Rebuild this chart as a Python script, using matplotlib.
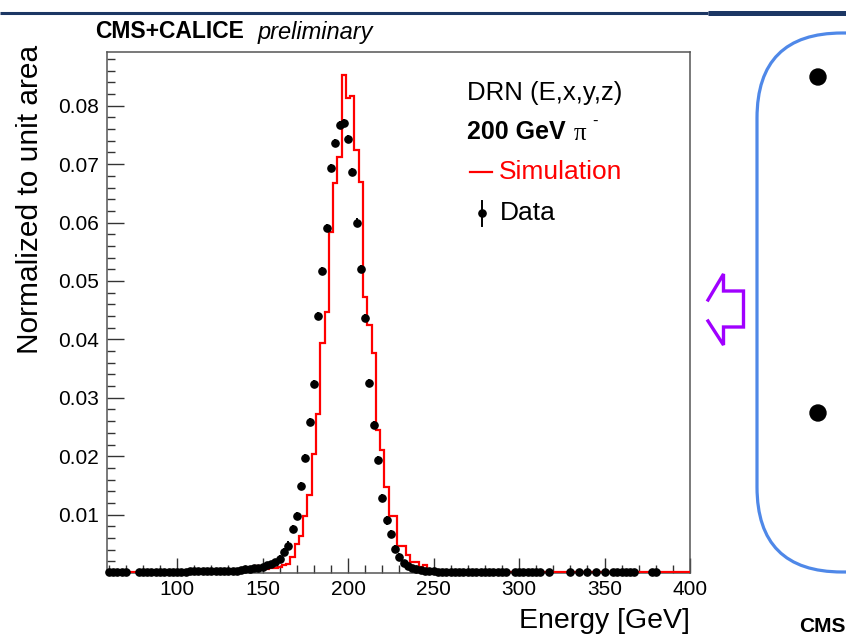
import numpy as np
import matplotlib
matplotlib.use('Agg')
import matplotlib.pyplot as plt
from matplotlib.patches import FancyBboxPatch, Circle
from matplotlib.ticker import MultipleLocator, FixedLocator

plt.rcParams['font.family'] = ['Liberation Sans', 'DejaVu Sans']

# ---------------- data ----------------
BIN_WIDTH = 2.5
FIRST_CENTER = 60.0
LAST_CENTER = 400.0

# simulation (normalized), bin centres 60 ... 132.5
SIM_LEFT_TAIL = [0.0001, 0.0001, 0.0001, 0.0001, 0.0001, 0.0001, 0.0001, 0.0001, 0.0001, 0.0001,
                 0.0001, 0.0001, 0.0001, 0.0001, 0.0001, 0.0001, 0.0001, 0.0001, 0.0002, 0.0002,
                 0.0002, 0.0002, 0.0002, 0.0002, 0.0002, 0.0002, 0.0002, 0.0002, 0.0003, 0.0003]
# bin centres 135 ... 250
SIM_CORE = [0.0003, 0.0005, 0.0005, 0.0007, 0.0008, 0.0012, 0.0007, 0.0006, 0.0008, 0.0009,
            0.0011, 0.0013, 0.0016, 0.0027, 0.0050, 0.0064, 0.0097, 0.0133, 0.0203, 0.0273,
            0.0393, 0.0447, 0.0584, 0.0668, 0.0713, 0.0853, 0.0813, 0.0816, 0.0725, 0.0670,
            0.0473, 0.0424, 0.0376, 0.0244, 0.0210, 0.0147, 0.0098, 0.0098, 0.0046, 0.0046,
            0.0030, 0.0018, 0.0018, 0.0010, 0.0014, 0.0005, 0.0004]
# bin centres 252.5 ... 400
SIM_RIGHT_TAIL = [0.0003, 0.0003, 0.0003, 0.0003, 0.0003, 0.0003, 0.0003, 0.0002, 0.0002, 0.0002,
                  0.0002, 0.0002, 0.0002, 0.0002, 0.0002, 0.0002, 0.0002, 0.0002, 0.0002, 0.0002,
                  0.0001, 0.0001, 0.0001, 0.0001, 0.0001, 0.0001, 0.0001, 0.0001, 0.0001, 0.0001,
                  0.0001, 0.0001, 0.0001, 0.0001, 0.0001, 0.0001, 0.0001, 0.0001, 0.0001, 0.0001,
                  0.0001, 0.0001, 0.0001, 0.0001, 0.0001, 0.0001, 0.0001, 0.0001, 0.0001, 0.0001,
                  0.0001, 0.0001, 0.0001, 0.0001, 0.0001, 0.0001, 0.0001, 0.0001, 0.0001, 0.0001]

NAN = float('nan')
# data (normalized), bin centres 60 ... 132.5 (nan = empty bin)
DATA_LEFT_TAIL = [0.0002, 0.0002, 0.0002, 0.0002, 0.0002, NAN, NAN, 0.0002, 0.0002, 0.0002,
                  0.0002, 0.0002, 0.0002, 0.0002, 0.0002, 0.0002, 0.0002, 0.0002, 0.0002, 0.0003,
                  0.0003, 0.0003, 0.0003, 0.0003, 0.0003, 0.0003, 0.0003, 0.0003, 0.0003, 0.0004]
# bin centres 135 ... 250
DATA_CORE = [0.0004, 0.0005, 0.0006, 0.0007, 0.0008, 0.0009, 0.0010, 0.0013, 0.0015, 0.0018,
             0.0024, 0.0036, 0.0047, 0.0075, 0.0098, 0.0149, 0.0197, 0.0258, 0.0324, 0.0440,
             0.0517, 0.0590, 0.0693, 0.0736, 0.0767, 0.0771, 0.0743, 0.0687, 0.0600, 0.0521,
             0.0436, 0.0325, 0.0253, 0.0193, 0.0129, 0.0090, 0.0067, 0.0041, 0.0027, 0.0017,
             0.0012, 0.0009, 0.0007, 0.0005, 0.0004, 0.0003, 0.0003]
# bin centres 252.5 ... 400
DATA_RIGHT_TAIL = [0.0002, 0.0002, 0.0002, 0.0002, 0.0002, 0.0002, 0.0002, 0.0002, 0.0002, 0.0002,
                   0.0002, 0.0002, 0.0002, 0.0002, 0.0002, 0.0002, 0.0002, NAN, 0.0001, 0.0001,
                   0.0001, 0.0001, 0.0001, 0.0001, 0.0001, NAN, 0.0001, NAN, NAN, NAN,
                   NAN, 0.0001, NAN, 0.0001, NAN, 0.0001, NAN, 0.0001, NAN, 0.0001,
                   NAN, 0.0001, 0.0001, 0.0001, 0.0001, 0.0001, 0.0001, NAN, NAN, NAN,
                   0.0001, 0.0001, NAN, NAN, NAN, NAN, NAN, NAN, NAN, NAN]
DATA_ERR = 0.0007

X_TICKS = [100, 150, 200, 250, 300, 350, 400]
Y_TICKS = [0.01, 0.02, 0.03, 0.04, 0.05, 0.06, 0.07, 0.08]
Y_TICK_LABELS = ['0.01', '0.02', '0.03', '0.04', '0.05', '0.06', '0.07', '0.08']

# ---------------- figure ----------------
W, H = 846, 643
fig = plt.figure(figsize=(W / 100, H / 100), dpi=100)

# slide decorations (pixel coordinates)
ov = fig.add_axes([0, 0, 1, 1], zorder=0)
ov.set_xlim(0, W)
ov.set_ylim(H, 0)
ov.axis('off')
navy = '#1c3764'
ov.plot([0, 708], [13, 13], color=navy, lw=2.2, solid_capstyle='butt')
ov.plot([708, W], [12.5, 12.5], color=navy, lw=3.6, solid_capstyle='butt')
box = FancyBboxPatch((757, 33), 200, 539, boxstyle='round,pad=0,rounding_size=85',
                     fill=False, edgecolor='#4f88e8', lw=2.3)
ov.add_patch(box)
ov.add_patch(Circle((818, 77), 8, color='black'))
ov.add_patch(Circle((818, 413), 8, color='black'))
arrow_x = [708, 723.5, 723.5, 743.5, 743.5, 723.5, 723.5, 708]
arrow_y = [300, 274, 291, 291, 327, 327, 345, 321]
ov.plot(arrow_x, arrow_y, color='#a000ff', lw=2.4, solid_joinstyle='miter')
ov.text(799, 627, 'CMS', fontsize=15, fontweight='bold', ha='left', va='center')

# main plot
L, R, T, B = 107, 690, 52, 573
ax = fig.add_axes([L / W, (H - B) / H, (R - L) / W, (B - T) / H], zorder=2)
ax.set_facecolor('white')

centers = np.arange(FIRST_CENTER, LAST_CENTER + 0.01, BIN_WIDTH)
edges = np.append(centers - BIN_WIDTH / 2, centers[-1] + BIN_WIDTH / 2)
sim = np.array(SIM_LEFT_TAIL + SIM_CORE + SIM_RIGHT_TAIL)
data = np.array(DATA_LEFT_TAIL + DATA_CORE + DATA_RIGHT_TAIL)

ax.stairs(sim, edges, color='#ff0000', lw=1.6, zorder=3)

ok = ~np.isnan(data)
err = np.where(data[ok] >= 0.002, DATA_ERR, 0.0)
eb = ax.errorbar(centers[ok], data[ok], yerr=err, fmt='o', color='black', ms=5.2,
                 elinewidth=1.4, capsize=0, zorder=4)
eb[0].set_clip_on(False)

ax.set_xlim(59, 400)
ax.set_ylim(0, 0.0892)

ax.xaxis.set_major_locator(FixedLocator(X_TICKS))
ax.xaxis.set_minor_locator(MultipleLocator(10))
ax.set_yticks(Y_TICKS)
ax.set_yticklabels(Y_TICK_LABELS)
ax.yaxis.set_minor_locator(MultipleLocator(0.002))

frame_col = '#555555'
for s in ax.spines.values():
    s.set_color(frame_col)
    s.set_linewidth(1.1)
ax.tick_params(axis='both', which='both', direction='in', top=False, right=False,
               color='#333333', labelsize=15)
ax.tick_params(axis='x', which='major', length=11, width=1.0, pad=5)
ax.tick_params(axis='x', which='minor', length=5.5, width=1.0)
ax.tick_params(axis='y', which='major', length=12, width=1.0, pad=6)
ax.tick_params(axis='y', which='minor', length=6, width=1.0)

# axis titles
fig.text(R / W, 1 - 621 / H, 'Energy [GeV]', fontsize=20.5, ha='right', va='center')
fig.text(30 / W, 1 - 45 / H, 'Normalized to unit area', fontsize=21.5, rotation=90,
         ha='center', va='top')

# header
fig.text(95 / W, 1 - 32 / H, 'CMS+CALICE', fontsize=16.5, fontweight='bold',
         ha='left', va='center')
fig.text(258 / W, 1 - 32 / H, 'preliminary', fontsize=17, style='italic',
         ha='left', va='center')

# legend / labels inside the frame (axes fraction)
def axf(px, py):
    return (px - L) / (R - L), (B - py) / (B - T)

x0, y0 = axf(467, 93)
ax.text(x0, y0, 'DRN (E,x,y,z)', transform=ax.transAxes, fontsize=18.5, ha='left', va='center')
x0, y0 = axf(467, 132)
ax.text(x0, y0, '200 GeV', transform=ax.transAxes, fontsize=18, fontweight='bold',
        ha='left', va='center')
x0, y0 = axf(574, 134)
ax.text(x0, y0, 'π', transform=ax.transAxes, fontsize=18,
        family=['Liberation Serif', 'DejaVu Serif'], ha='left', va='center')
x0, y0 = axf(592, 121)
ax.text(x0, y0, '-', transform=ax.transAxes, fontsize=12, ha='left', va='center')

xa, ya = axf(470, 172)
xb, _ = axf(492, 172)
ax.plot([xa, xb], [ya, ya], transform=ax.transAxes, color='#ff0000', lw=1.6)
x0, y0 = axf(499, 172)
ax.text(x0, y0, 'Simulation', transform=ax.transAxes, fontsize=19, color='#ff0000',
        ha='left', va='center')

xm, ym = axf(482, 213)
_, yt = axf(482, 201)
_, yb = axf(482, 226)
ax.plot([xm, xm], [yb, yt], transform=ax.transAxes, color='black', lw=1.4)
ax.plot([xm], [ym], 'o', transform=ax.transAxes, color='black', ms=5.2)
x0, y0 = axf(500, 213)
ax.text(x0, y0, 'Data', transform=ax.transAxes, fontsize=19, ha='left', va='center')

fig.savefig('out.png', dpi=100)
